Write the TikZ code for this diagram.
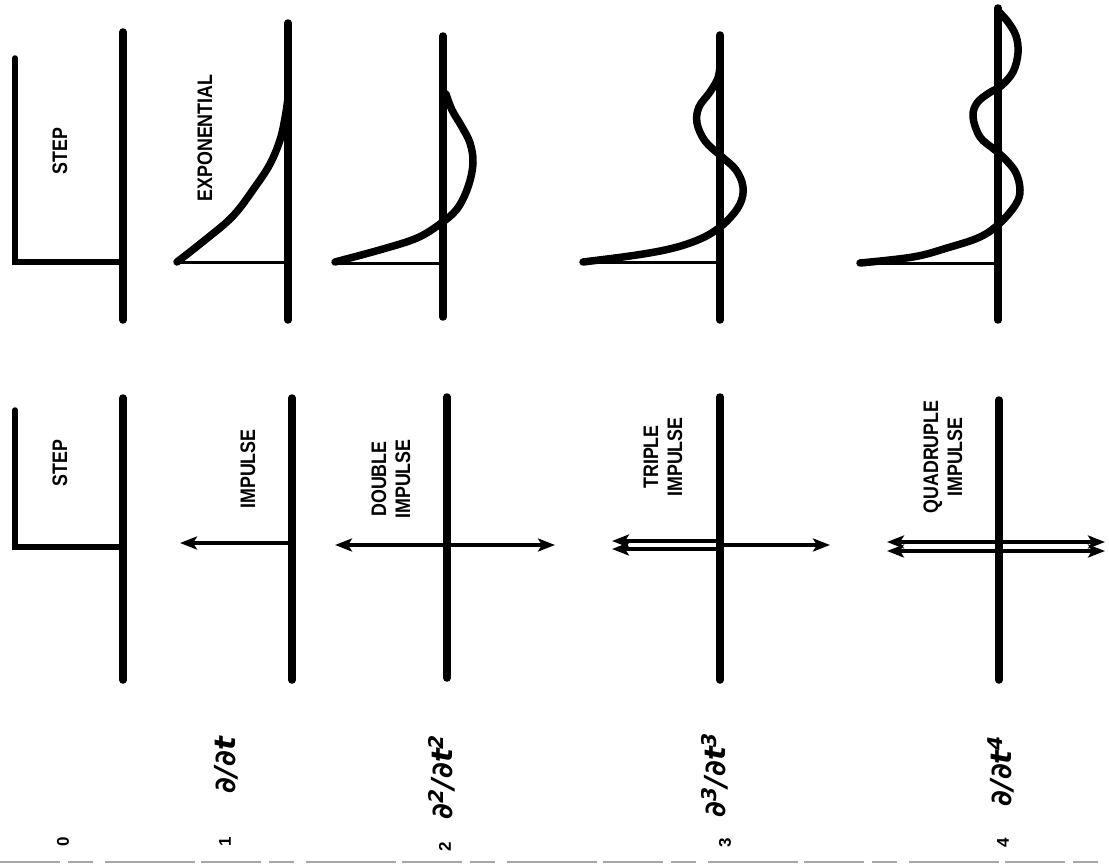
\documentclass[tikz,border=0pt]{standalone}
\usepackage{fontspec}
\setmainfont{Liberation Sans}
\newfontfamily\djv{DejaVu Sans}
\usetikzlibrary{arrows.meta}
\newcommand{\condtxt}[1]{\scalebox{0.85}[1]{#1}}
\newcommand{\opA}{{\djv\bfseries\itshape ∂/∂t}}
\newcommand{\opB}{{\djv\bfseries\itshape ∂\textsuperscript{2}/∂t\textsuperscript{2}}}
\newcommand{\opC}{{\djv\bfseries\itshape ∂\textsuperscript{3}/∂t\textsuperscript{3}}}
\newcommand{\opD}{{\djv\bfseries\itshape ∂/∂t\textsuperscript{4}}}
\begin{document}
\begin{tikzpicture}[x=1pt,y=-1pt,
  axisline/.style={line width=7.5pt, line cap=round},
  curveline/.style={line width=7.5pt, line cap=round, line join=round},
  baseln/.style={line width=3pt},
  stepline/.style={line width=5.5pt, line join=miter, line cap=round},
  imp/.style={line width=4.5pt, -{Stealth[length=17pt,width=13pt,inset=4pt]}},
  lbl/.style={rotate=90, font=\bfseries\fontsize{21}{24}\selectfont, align=center, inner sep=0pt},
  rowno/.style={rotate=90, font=\bfseries\fontsize{17}{17}\selectfont, inner sep=0pt},
  deriv/.style={rotate=90, font=\fontsize{29}{29}\selectfont, inner sep=0pt}
]
\useasboundingbox (0,0) rectangle (1109,864);

% ---------------- upper panels ----------------
% row 0: step
\draw[axisline] (123,32) -- (123,320);
\draw[stepline] (15,58) -- (15,262) -- (123,262);
\node[lbl] (stepA) at (60,151) {\condtxt{STEP}};

% row 1: exponential
\draw[axisline] (288,23) -- (288,320);
\draw[baseln] (177,262) -- (288,262);
\draw[curveline] plot[smooth, tension=0.6] coordinates {(177,262) (205,240) (233,216) (255,187) (270,164) (280,140) (285,118) (288,98)};
\node[lbl] (expo) at (205,138) {\condtxt{EXPONENTIAL}};

% row 2
\draw[axisline] (443,36) -- (443,317);
\draw[baseln] (335,263) -- (443,263);
\draw[curveline] plot[smooth, tension=0.6] coordinates {(335,262) (383,249) (417,238) (440,224) (457,209) (468,187) (473,163) (470,143) (462,127) (452,110) (446,94)};

% row 3
\draw[axisline] (720,35) -- (720,320);
\draw[baseln] (583,262) -- (720,262);
\draw[curveline] plot[smooth, tension=0.6] coordinates {(583,262) (630,256) (665,250) (690,243) (710,234) (727,221) (740,204) (743,187) (736,170) (721,156) (705,141) (697,123) (699,107) (710,92) (718,78) (720,65)};

% row 4
\draw[axisline] (998,8) -- (998,320);
\draw[baseln] (860,263) -- (998,263);
\draw[curveline] plot[smooth, tension=0.6] coordinates {(860,263) (913,257) (947,248) (980,237) (1000,223) (1016,204) (1020,190) (1016,173) (1006,160) (995,150) (980,137) (973,117) (977,103) (989,93) (1001,86) (1013,72) (1018,53) (1016,36) (1008,22) (999,12)};

% ---------------- lower panels ----------------
% row 0: step
\draw[axisline] (123,398) -- (123,680);
\draw[stepline] (15,410) -- (15,547) -- (123,547);
\node[lbl] (stepB) at (60,463) {\condtxt{STEP}};

% row 1: impulse
\draw[axisline] (292,398) -- (292,680);
\coordinate (i1) at (292,543);
\coordinate (i1l) at (180,543);
\draw[imp] (i1) -- (i1l);
\node[lbl] (imp1) at (248,469) {\condtxt{IMPULSE}};

% row 2: double impulse
\draw[axisline] (447,397) -- (447,678);
\coordinate (i2) at (447,545);
\coordinate (i2l) at (335,545);
\coordinate (i2r) at (555,545);
\draw[imp] (i2) -- (i2l);
\draw[imp] (i2) -- (i2r);
\node[lbl] (imp2) at (391,479) {\condtxt{DOUBLE}\\\condtxt{IMPULSE}};

% row 3: triple impulse
\draw[axisline] (720,397) -- (720,680);
\coordinate (i3a) at (720,541);
\coordinate (i3b) at (720,549);
\coordinate (i3la) at (612,541);
\coordinate (i3lb) at (612,549);
\coordinate (i3c) at (720,545);
\coordinate (i3r) at (830,545);
\draw[imp] (i3a) -- (i3la);
\draw[imp] (i3b) -- (i3lb);
\draw[imp] (i3c) -- (i3r);
\node[lbl] (imp3) at (663,457) {\condtxt{TRIPLE}\\\condtxt{IMPULSE}};

% row 4: quadruple impulse
\draw[axisline] (999,400) -- (999,680);
\coordinate (i4a) at (999,542);
\coordinate (i4b) at (999,551);
\coordinate (i4la) at (887,542);
\coordinate (i4lb) at (887,551);
\coordinate (i4ra) at (1105,542);
\coordinate (i4rb) at (1105,551);
\draw[imp] (i4a) -- (i4la);
\draw[imp] (i4b) -- (i4lb);
\draw[imp] (i4a) -- (i4ra);
\draw[imp] (i4b) -- (i4rb);
\node[lbl] (imp4) at (943,457) {\condtxt{QUADRUPLE}\\\condtxt{IMPULSE}};

% ---------------- operator labels ----------------
\node[deriv] (d1) at (226,765) {\opA};
\node[deriv] (d2) at (442,777) {\opB};
\node[deriv] (d3) at (715,775) {\opC};
\node[deriv] (d4) at (1001,771) {\opD};

\node[rowno] (n0) at (63,842) {0};
\node[rowno] (n1) at (225,842) {1};
\node[rowno] (n2) at (445,847) {2};
\node[rowno] (n3) at (725,843) {3};
\node[rowno] (n4) at (1003,843) {4};

% scan edge
\draw[gray!70, line width=1.5pt, dash pattern=on 60pt off 8pt on 25pt off 12pt on 90pt off 6pt] (0,862) -- (1109,862);
\end{tikzpicture}
\end{document}
